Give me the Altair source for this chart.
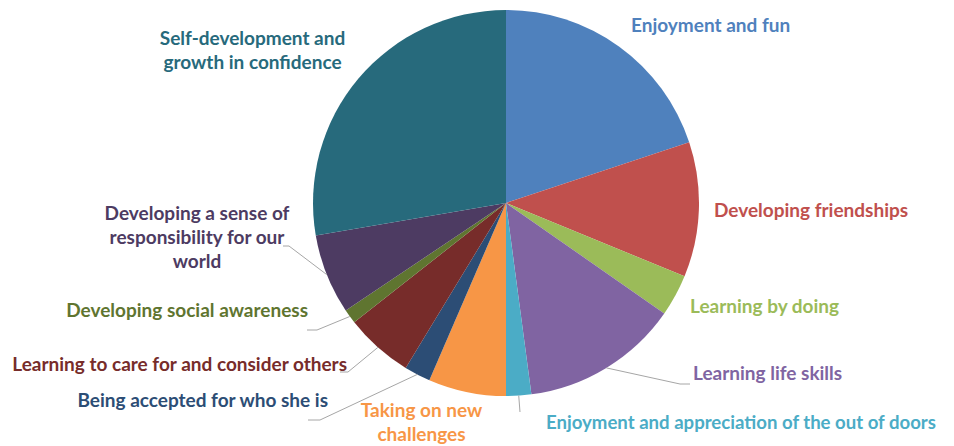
import altair as alt
import pandas as pd
import numpy as np

categories = [
    "Enjoyment and fun",
    "Developing friendships",
    "Learning by doing",
    "Learning life skills",
    "Enjoyment and appreciation of the out of doors",
    "Taking on new challenges",
    "Being accepted for who she is",
    "Learning to care for and consider others",
    "Developing social awareness",
    "Developing a sense of responsibility for our world",
    "Self-development and growth in confidence",
]
values = [19.9, 11.3, 3.5, 13.2, 2.1, 6.5, 2.2, 5.7, 1.2, 6.7, 27.7]
colors = ["#4F81BD", "#C0504D", "#9BBB59", "#8064A2", "#4BACC6", "#F79646",
          "#2C4D75", "#772C2A", "#5F7530", "#4D3B62", "#276A7C"]
label_text = [
    "Enjoyment and fun",
    "Developing friendships",
    "Learning by doing",
    "Learning life skills",
    "Enjoyment and appreciation of the out of doors",
    "Taking on new\nchallenges",
    "Being accepted for who she is",
    "Learning to care for and consider others",
    "Developing social awareness",
    "Developing a sense of\nresponsibility for our\nworld",
    "Self-development and\ngrowth in confidence",
]

# layout (pixels within the chart)
W, H = 938, 438
CX, CY, R = 498, 195, 193
label_x = [623, 706, 682, 685, 538, 413.5, 320, 339, 300, 189, 244.5]
label_y = [24, 209, 305, 372, 421, 409, 399, 363, 309, 212, 37]
label_align = ["left", "left", "left", "left", "left", "center", "right",
               "right", "right", "center", "center"]
label_size = [19, 19, 19, 19, 18.6, 19, 19, 19, 19, 19, 19]

df = pd.DataFrame({"idx": range(len(categories)), "category": categories,
                   "value": values})

color_scale = alt.Scale(domain=categories, range=colors)

pie = alt.Chart(df).mark_arc(outerRadius=R).encode(
    theta=alt.Theta("value:Q", stack=True),
    color=alt.Color("category:N", scale=color_scale, legend=None),
    order=alt.Order("idx:Q"),
    x=alt.value(CX), y=alt.value(CY),
)

# leader lines: start at slice mid-angle on the rim
cum = np.cumsum(values)
total = cum[-1]
mid = (cum - np.array(values) / 2) / total * 2 * np.pi
leader_idx = [3, 4, 6, 7, 8, 9]
elbows = {3: ((672, 376), (682, 376)), 4: ((512, 404), (512, 404)),
          6: ((312, 412), (300, 412)), 7: ((340, 364), (332, 364)),
          8: ((309, 322), (299, 322)), 9: ((281, 238), (275, 238))}
segs = []
for i in leader_idx:
    sx = CX + R * np.sin(mid[i])
    sy = CY - R * np.cos(mid[i])
    (ex, ey), (fx, fy) = elbows[i]
    segs.append({"x": sx, "y": sy, "x2": ex, "y2": ey})
    if (ex, ey) != (fx, fy):
        segs.append({"x": ex, "y": ey, "x2": fx, "y2": fy})
seg_df = pd.DataFrame(segs)

leaders = alt.Chart(seg_df).mark_rule(color="#A6A6A6", strokeWidth=1).encode(
    x=alt.X("x:Q", scale=None), y=alt.Y("y:Q", scale=None),
    x2="x2:Q", y2="y2:Q",
)

lab_df = pd.DataFrame({"category": categories, "label": label_text,
                       "lx": label_x, "ly": label_y, "al": label_align,
                       "fs": label_size})
text_layers = []
for al in ["left", "center", "right"]:
    sub = lab_df[lab_df["al"] == al]
    text_layers.append(
        alt.Chart(sub).mark_text(
            align=al, baseline="alphabetic", font="Lato", fontWeight="bold",
            lineBreak="\n", lineHeight=24,
        ).encode(
            x=alt.X("lx:Q", scale=None), y=alt.Y("ly:Q", scale=None),
            text="label:N",
            size=alt.Size("fs:Q", scale=None, legend=None),
            color=alt.Color("category:N", scale=color_scale, legend=None),
        )
    )

chart = alt.layer(pie, leaders, *text_layers).properties(
    width=W, height=H, autosize=alt.AutoSizeParams(type="none"), padding=0,
).configure_view(stroke=None)

chart.save("out.html", embed_options={"renderer": "svg", "actions": False})
